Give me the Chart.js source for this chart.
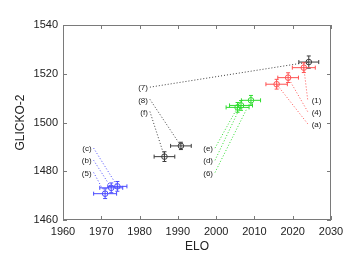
<!DOCTYPE html>
<html>
<head>
<meta charset="utf-8">
<script src="https://cdn.jsdelivr.net/npm/chart.js@4"></script>
<style>
  html, body { margin: 0; padding: 0; background: #fff; }
  #wrap { width: 361px; height: 263px; }
</style>
</head>
<body>
<div id="wrap"><canvas id="chart" width="361" height="263"></canvas></div>
<script>
// one entry per engine/point
const tags      = ['(c)', '(b)', '(5)', '(7)', '(8)', '(f)', '(e)', '(d)', '(6)', '(1)', '(4)', '(a)'];
const series    = ['blue', 'blue', 'blue', 'black', 'black', 'black', 'green', 'green', 'green', 'red', 'red', 'red'];
const elo       = [1974.2, 1972.6, 1971.0, 2024.2, 1990.8, 1986.5, 2005.6, 2006.5, 2009.1, 2022.9, 2018.8, 2015.8];
const glicko    = [1473.8, 1473.2, 1470.8, 1524.8, 1490.4, 1486.0, 1506.2, 1507.0, 1509.1, 1522.5, 1518.4, 1515.7];
const eloErr    = [2.5, 3.0, 3.0, 2.6, 2.7, 2.7, 3.0, 3.0, 2.5, 3.0, 2.7, 2.8];
const glickoErr = [2.0, 2.0, 2.0, 2.5, 1.5, 2.0, 2.0, 2.0, 2.0, 2.0, 2.0, 2.0];
// where each tag's leader line starts (data units)
const tagElo    = [1968, 1968, 1968, 1982.7, 1982.7, 1982.7, 1999.7, 1999.7, 1999.7, 2023.9, 2023.9, 2023.9];
const tagGlicko = [1489.5, 1484.5, 1479.5, 1514.5, 1509.5, 1504.5, 1489.5, 1484.5, 1479.5, 1509.5, 1504.5, 1499.5];

const xTicks = [1960, 1970, 1980, 1990, 2000, 2010, 2020, 2030];
const yTicks = [1460, 1480, 1500, 1520, 1540];

const colors = {
    blue: '#4a4aff',
    black: '#3c3c3c',
    green: '#2fdc2f',
    red: '#ff5252'
};
const seriesNames = ['blue', 'black', 'green', 'red'];

const datasets = [];

// dotted leader lines, label -> point
tags.forEach((t, i) => {
    datasets.push({
        type: 'line',
        data: [{ x: tagElo[i], y: tagGlicko[i] }, { x: elo[i], y: glicko[i] }],
        borderColor: colors[series[i]],
        borderWidth: 1,
        borderDash: [1, 2],
        pointRadius: 0,
        fill: false,
        order: 2
    });
});

// hollow circles
seriesNames.forEach(s => {
    const pts = [];
    elo.forEach((x, i) => {
        if (series[i] === s) pts.push({ x: x, y: glicko[i], idx: i });
    });
    datasets.push({
        type: 'scatter',
        data: pts,
        pointStyle: 'circle',
        pointRadius: 2.8,
        borderWidth: 1,
        borderColor: colors[s],
        backgroundColor: 'rgba(0,0,0,0)',
        order: 1
    });
});

const extrasPlugin = {
    id: 'extras',
    beforeDatasetsDraw(chart) {
        const { ctx, chartArea: a, scales: { x, y } } = chart;
        ctx.save();
        ctx.strokeStyle = '#7a7a7a';
        ctx.lineWidth = 1;
        ctx.strokeRect(Math.round(a.left) + 0.5, Math.round(a.top) + 0.5,
            Math.round(a.right - a.left) - 1, Math.round(a.bottom - a.top) - 1);
        ctx.beginPath();
        xTicks.forEach(v => {
            const px = Math.round(x.getPixelForValue(v)) + 0.5;
            ctx.moveTo(px, a.bottom); ctx.lineTo(px, a.bottom - 4);
            ctx.moveTo(px, a.top); ctx.lineTo(px, a.top + 4);
        });
        yTicks.forEach(v => {
            const py = Math.round(y.getPixelForValue(v)) + 0.5;
            ctx.moveTo(a.left, py); ctx.lineTo(a.left + 4, py);
            ctx.moveTo(a.right, py); ctx.lineTo(a.right - 4, py);
        });
        ctx.stroke();
        ctx.restore();
    },
    afterDatasetsDraw(chart) {
        const { ctx, scales: { x, y } } = chart;
        ctx.save();
        ctx.lineWidth = 1;
        elo.forEach((v, i) => {
            const px = x.getPixelForValue(v);
            const py = y.getPixelForValue(glicko[i]);
            const x0 = x.getPixelForValue(v - eloErr[i]);
            const x1 = x.getPixelForValue(v + eloErr[i]);
            const y0 = y.getPixelForValue(glicko[i] - glickoErr[i]);
            const y1 = y.getPixelForValue(glicko[i] + glickoErr[i]);
            ctx.strokeStyle = colors[series[i]];
            ctx.beginPath();
            ctx.moveTo(x0, py); ctx.lineTo(x1, py);
            ctx.moveTo(x0, py - 2); ctx.lineTo(x0, py + 2);
            ctx.moveTo(x1, py - 2); ctx.lineTo(x1, py + 2);
            ctx.moveTo(px, y0); ctx.lineTo(px, y1);
            ctx.moveTo(px - 2, y0); ctx.lineTo(px + 2, y0);
            ctx.moveTo(px - 2, y1); ctx.lineTo(px + 2, y1);
            ctx.stroke();
        });

        // tag labels
        ctx.font = '8px "Liberation Sans", Arial, sans-serif';
        ctx.fillStyle = '#222';
        ctx.textBaseline = 'middle';
        tags.forEach((t, i) => {
            const px = x.getPixelForValue(tagElo[i]);
            const py = y.getPixelForValue(tagGlicko[i]);
            if (series[i] === 'red') {
                ctx.textAlign = 'left';
                ctx.fillText(t, px + 4, py + 1);
            } else {
                ctx.textAlign = 'right';
                ctx.fillText(t, px - 2, py + 1);
            }
        });
        ctx.restore();
    }
};

const tickFont = { family: '"Liberation Sans", Arial, sans-serif', size: 11 };
const titleFont = { family: '"Liberation Sans", Arial, sans-serif', size: 12 };

new Chart(document.getElementById('chart'), {
    type: 'scatter',
    data: { datasets: datasets },
    options: {
        responsive: false,
        animation: false,
        layout: { padding: { top: 25, right: 30, left: 0, bottom: 0 } },
        plugins: { legend: { display: false }, tooltip: { enabled: false } },
        scales: {
            x: {
                type: 'linear',
                min: 1960,
                max: 2030,
                afterFit: s => { s.height = 43; },
                afterBuildTicks: s => { s.ticks = xTicks.map(v => ({ value: v })); },
                grid: { display: false, drawTicks: false },
                border: { display: false },
                ticks: { color: '#222', font: tickFont, padding: 5, maxRotation: 0, callback: v => String(v) },
                title: { display: true, text: 'ELO', color: '#222', font: titleFont, padding: { top: 0, bottom: 9 } }
            },
            y: {
                type: 'linear',
                min: 1460,
                max: 1540,
                afterFit: s => { s.width = 63; },
                afterBuildTicks: s => { s.ticks = yTicks.map(v => ({ value: v })); },
                grid: { display: false, drawTicks: false },
                border: { display: false },
                ticks: { color: '#222', font: tickFont, padding: 5, callback: v => String(v) },
                title: { display: true, text: 'GLICKO-2', color: '#222', font: titleFont, padding: { top: 13, bottom: 0 } }
            }
        }
    },
    plugins: [extrasPlugin]
});
</script>
</body>
</html>
